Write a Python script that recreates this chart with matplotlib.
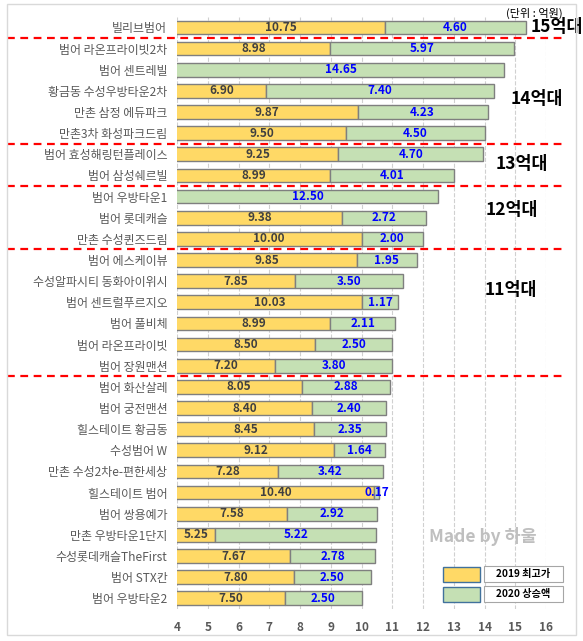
import matplotlib
matplotlib.use('Agg')
import matplotlib.pyplot as plt
import matplotlib.patches as mpatches
import numpy as np

plt.rcParams['font.family'] = ['Noto Sans CJK KR', 'DejaVu Sans']

###############################
# data
###############################

names = ['빌리브범어', '범어 라온프라이빗2차', '범어 센트레빌', '황금동 수성우방타운2차',
         '만촌 삼정 에듀파크', '만촌3차 화성파크드림', '범어 효성해링턴플레이스', '범어 삼성쉐르빌',
         '범어 우방타운1', '범어 롯데캐슬', '만촌 수성퀸즈드림', '범어 에스케이뷰',
         '수성알파시티 동화아이위시', '범어 센트럴푸르지오', '범어 풀비체', '범어 라온프라이빗',
         '범어 장원맨션', '범어 화산살레', '범어 궁전맨션', '힐스테이트 황금동',
         '수성범어 W', '만촌 수성2차e-편한세상', '힐스테이트 범어', '범어 쌍용예가',
         '만촌 우방타운1단지', '수성롯데캐슬TheFirst', '범어 STX칸', '범어 우방타운2']
price_2019 = [10.75, 8.98, 0, 6.90, 9.87, 9.50, 9.25, 8.99, 0, 9.38, 10.00, 9.85,
              7.85, 10.03, 8.99, 8.50, 7.20, 8.05, 8.40, 8.45, 9.12, 7.28, 10.40,
              7.58, 5.25, 7.67, 7.80, 7.50]
rise_2020 = [4.60, 5.97, 14.65, 7.40, 4.23, 4.50, 4.70, 4.01, 12.50, 2.72, 2.00, 1.95,
             3.50, 1.17, 2.11, 2.50, 3.80, 2.88, 2.40, 2.35, 1.64, 3.42, 0.17,
             2.92, 5.22, 2.78, 2.50, 2.50]
# group boundaries (after these rows) and group labels
group_breaks = [0, 5, 7, 10, 16]
group_names = ['15억대', '14억대', '13억대', '12억대', '11억대']
group_label_pos = [(16.36, 0.0), (15.7, 3.4), (15.2, 6.45), (14.9, 8.65), (14.85, 12.4)]
xticks = [4, 5, 6, 7, 8, 9, 10, 11, 12, 13, 14, 15, 16]

###############################
# plot
###############################

W, H = 583, 641
fig = plt.figure(figsize=(W / 100, H / 100), dpi=100)

# outer chart border
fig.add_artist(mpatches.Rectangle((7 / W, 1 - 635 / H), 569 / W, 631 / H,
                                  transform=fig.transFigure, fill=False,
                                  edgecolor='#D9D9D9', linewidth=1))

ax = fig.add_axes([177 / W, 1 - 608.9 / H, (546 - 177) / W, (608.9 - 16.9) / H])

yellow = '#FFD966'
green = '#C5E0B4'
edge = '#7F7F7F'
y = np.arange(len(names))
p19 = np.array(price_2019)
r20 = np.array(rise_2020)

ax.barh(y, p19, height=0.65, color=yellow, edgecolor=edge, linewidth=1, zorder=3)
ax.barh(y, r20, left=p19, height=0.65, color=green, edgecolor=edge, linewidth=1, zorder=3)

xmin, xmax = 4, 16
ax.set_xlim(xmin, xmax)
ax.set_ylim(len(names) - 0.5, -0.5)

for i in range(len(names)):
    if p19[i] > 0:
        ax.text((xmin + p19[i]) / 2, i, '%.2f' % p19[i], ha='center', va='center',
                fontsize=8.5, fontweight='bold', color='#404040', zorder=4)
        gx = p19[i] + r20[i] / 2
    else:
        gx = (xmin + r20[i]) / 2
    ax.text(gx, i, '%.2f' % r20[i], ha='center', va='center',
            fontsize=8.5, fontweight='bold', color='#0000FF', zorder=4)

ax.set_yticks(y)
ax.set_yticklabels(names, fontsize=8.6, color='#595959', fontweight='medium')
ax.set_xticks(xticks)
ax.set_xticklabels([str(t) for t in xticks], fontsize=8.5, color='#595959', fontweight='bold')
ax.tick_params(axis='both', length=0, pad=7)
ax.tick_params(axis='x', pad=9)
for s in ax.spines.values():
    s.set_visible(False)
ax.grid(axis='x', color='#D0D0D0', linestyle='--', linewidth=0.8, zorder=0)
ax.set_axisbelow(True)

# group separators
for b in group_breaks:
    ax.plot([-0.46, 1.05], [b + 0.5, b + 0.5], transform=ax.get_yaxis_transform(),
            color='#FF0000', linestyle='--', linewidth=1.6, dashes=(3.5, 2.5),
            clip_on=False, zorder=5)

for nm, (gx, gy) in zip(group_names, group_label_pos):
    ax.text(gx, gy, nm, ha='center', va='center', fontsize=12.5, fontweight='bold',
            color='black', clip_on=False, zorder=6)

fig.text(534 / W, 1 - 13 / H, '(단위 : 억원)', ha='center', va='center', fontsize=8,
         color='black')
fig.text(483 / W, 1 - 536 / H, 'Made by 하울', ha='center', va='center', fontsize=12.5,
         fontweight='bold', color='#BFBFBF')

# custom legend
for (yy, col, lab) in [(574, yellow, '2019 최고가'), (594, green, '2020 상승액')]:
    fig.add_artist(mpatches.Rectangle((443 / W, 1 - (yy + 7.5) / H), 37 / W, 15 / H,
                                      transform=fig.transFigure, facecolor=col,
                                      edgecolor='#41719C', linewidth=1))
    fig.add_artist(mpatches.Rectangle((484 / W, 1 - (yy + 8) / H), 79 / W, 16 / H,
                                      transform=fig.transFigure, facecolor='white',
                                      edgecolor='#A6A6A6', linewidth=0.8))
    fig.text(523.5 / W, 1 - yy / H, lab, ha='center', va='center', fontsize=7.3,
             fontweight='bold', color='black')

fig.savefig('out.png', dpi=100)
